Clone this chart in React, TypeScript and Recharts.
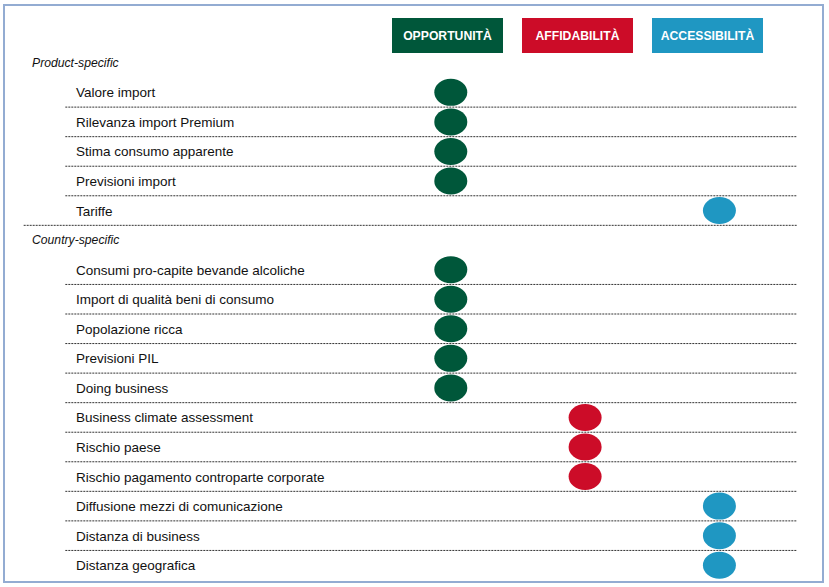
import { ReferenceLine, Scatter, ScatterChart, XAxis, YAxis } from 'recharts'

const dimensions = ['OPPORTUNITÀ', 'AFFIDABILITÀ', 'ACCESSIBILITÀ']
const dimensionColors = ['#00573a', '#cc0c28', '#1f97c2']

const sectionNames = ['Product-specific', 'Country-specific']

const productIndicators = [
  'Valore import',
  'Rilevanza import Premium',
  'Stima consumo apparente',
  'Previsioni import',
  'Tariffe',
]
// 1 = opportunità, 2 = affidabilità, 3 = accessibilità
const productDimension = [1, 1, 1, 1, 3]

const countryIndicators = [
  'Consumi pro-capite bevande alcoliche',
  'Import di qualità beni di consumo',
  'Popolazione ricca',
  'Previsioni PIL',
  'Doing business',
  'Business climate assessment',
  'Rischio paese',
  'Rischio pagamento controparte corporate',
  'Diffusione mezzi di comunicazione',
  'Distanza di business',
  'Distanza geografica',
]
const countryDimension = [1, 1, 1, 1, 1, 2, 2, 2, 3, 3, 3]

type Row = { label: string; kind: 'section' | 'item'; dim: number; last: boolean; sectionEnd: boolean }

const sections = [
  { labels: productIndicators, dims: productDimension },
  { labels: countryIndicators, dims: countryDimension },
]

const rows: Row[] = []
sections.forEach((s, si) => {
  rows.push({ label: sectionNames[si], kind: 'section', dim: 0, last: false, sectionEnd: false })
  s.labels.forEach((label, i) => {
    const end = i === s.labels.length - 1
    rows.push({ label, kind: 'item', dim: s.dims[i], last: end && si === sections.length - 1, sectionEnd: end })
  })
})

const font = '"Liberation Sans", Arial, sans-serif'

// x positions of the separators, in x-axis units
const ITEM_LINE_START = -1.87
const SECTION_LINE_START = -2.18
const LINE_END = 3.58

function RowLabel(props: any) {
  const { y, payload } = props
  const row = rows[payload.value]
  if (!row) return null
  const isSection = row.kind === 'section'
  return (
    <text
      x={isSection ? 32 : 76}
      y={y}
      dy={isSection ? 4 : 5}
      fontSize={isSection ? 12.2 : 13.5}
      fontStyle={isSection ? 'italic' : 'normal'}
      fontFamily={font}
      fill="#111"
      textAnchor="start"
    >
      {row.label}
    </text>
  )
}

function Dot(props: any) {
  const { cx, cy, fill } = props
  return <ellipse cx={cx} cy={cy} rx={16.5} ry={13.5} fill={fill} />
}

function HeaderBoxes() {
  return (
    <div style={{ display: 'flex', position: 'absolute', left: 392, top: 18 }}>
      {dimensions.map((d, i) => (
        <div
          key={d}
          style={{
            width: 111,
            height: 35,
            marginRight: 19,
            background: dimensionColors[i],
            color: '#fff',
            fontFamily: font,
            fontWeight: 700,
            fontSize: 12.2,
            display: 'flex',
            alignItems: 'center',
            justifyContent: 'center',
          }}
        >
          {d}
        </div>
      ))}
    </div>
  )
}

export default function App() {
  const ticks = rows.map((_, i) => i)
  return (
    <div style={{ position: 'absolute', left: 0, top: 0, width: 829, height: 587, background: '#fff' }}>
      <div
        style={{
          position: 'absolute',
          left: 3,
          top: 4,
          width: 821,
          height: 579,
          border: '2px solid #93acd2',
          boxSizing: 'border-box',
        }}
      />
      <div style={{ position: 'absolute', left: 0, top: 0 }}>
        <ScatterChart width={829} height={587} margin={{ top: 48, right: 29, bottom: 7, left: 20 }}>
          <XAxis type="number" dataKey="x" domain={[-2.2, 3.6]} allowDataOverflow hide />
          <YAxis
            type="number"
            dataKey="y"
            domain={[-0.5, rows.length - 0.5]}
            reversed
            allowDataOverflow
            ticks={ticks}
            interval={0}
            width={1}
            axisLine={false}
            tickLine={false}
            tick={(p: any) => <RowLabel {...p} />}
          />
          {rows.map((r, i) =>
            r.kind === 'item' && !r.last ? (
              <ReferenceLine
                key={`sep-${i}`}
                segment={[
                  { x: r.sectionEnd ? SECTION_LINE_START : ITEM_LINE_START, y: i + 0.5 },
                  { x: LINE_END, y: i + 0.5 },
                ]}
                stroke="#333"
                strokeWidth={1}
                strokeDasharray="2 1"
                ifOverflow="visible"
              />
            ) : null,
          )}
          {dimensions.map((d, di) => (
            <Scatter
              key={d}
              name={d}
              data={rows
                .map((r, i) => ({ x: r.dim, y: i, kind: r.kind }))
                .filter((p) => p.kind === 'item' && p.x === di + 1)}
              fill={dimensionColors[di]}
              shape={<Dot />}
              isAnimationActive={false}
            />
          ))}
        </ScatterChart>
      </div>
      <HeaderBoxes />
    </div>
  )
}
